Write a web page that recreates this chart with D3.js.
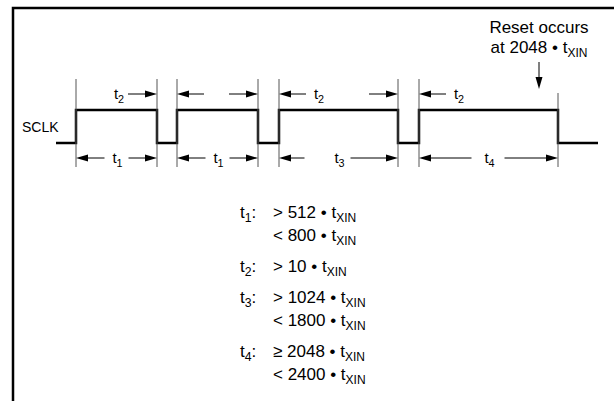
<!DOCTYPE html>
<html>
<head>
<meta charset="utf-8">
<script src="https://cdn.jsdelivr.net/npm/d3@7"></script>
<style>
  body { margin: 0; background: #fff; }
  svg { display: block; font-family: "Liberation Sans", Arial, sans-serif; }
</style>
</head>
<body>
<svg width="614" height="401"></svg>
<script>
// Edge times of SCLK (arbitrary units along the diagram)
const edgeTimes = [20, 101, 121, 202, 223, 342, 363, 502];
const signalStart = 0;
const signalEnd = 542;
const startLevel = 0; // low before first edge

// Dimension arrows under the waveform (edge indices)
const periods = [
    { from: 0, to: 1, sub: "1", gapL: 12, gapR: 12 },
    { from: 2, to: 3, sub: "1", gapL: 12, gapR: 12 },
    { from: 4, to: 5, sub: "3", gapL: 34, gapR: 12 },
    { from: 6, to: 7, sub: "4", gapL: 17, gapR: 16 }
];

// Low-time (t2) arrows over the waveform
const lowTimes = [
    { from: 1, to: 2, side: "left" },
    { from: 3, to: 4, side: "right" },
    { from: 5, to: 6, side: "right" }
];

// Timing requirements table
const specSymbols = ["1", "2", "3", "4"];
const specOps = [[">", "<"], [">"], [">", "<"], ["\u2265", "<"]];
const specValues = [["512", "800"], ["10"], ["1024", "1800"], ["2048", "2400"]];

const resetText = ["Reset occurs", "at 2048 \u2022 t"];

const svg = d3.select("svg");

// frame (cut off on the right and bottom)
svg.append("path")
    .attr("d", "M13,401 V8 H614")
    .attr("fill", "none")
    .attr("stroke", "#000")
    .attr("stroke-width", 2.5);

const x = d3.scaleLinear().domain([signalStart, signalEnd]).range([56, 598]);
const yHigh = 110, yLow = 143;

// waveform
let pts = [[signalStart, startLevel]];
let lvl = startLevel;
edgeTimes.forEach(t => {
    pts.push([t, lvl]);
    lvl = 1 - lvl;
    pts.push([t, lvl]);
});
pts.push([signalEnd, lvl]);

svg.append("path")
    .attr("d", d3.line().x(d => x(d[0])).y(d => d[1] ? yHigh : yLow)(pts))
    .attr("fill", "none")
    .attr("stroke", "#000")
    .attr("stroke-width", 2.5)
    .attr("stroke-linejoin", "miter");

// thin extension lines at each edge
edgeTimes.forEach((t, i) => {
    svg.append("line")
        .attr("x1", x(t)).attr("x2", x(t))
        .attr("y1", i === edgeTimes.length - 1 ? 93 : 79)
        .attr("y2", 167)
        .attr("stroke", "#555")
        .attr("stroke-width", 1);
});

svg.append("text")
    .attr("x", 22).attr("y", 132)
    .attr("font-size", 14)
    .text("SCLK");

// arrow helper: line from (x1,y) to (x2,y) with filled head at x2
function arrow(x1, x2, y) {
    const dir = Math.sign(x2 - x1);
    const hl = 12, hw = 3.5;
    svg.append("line")
        .attr("x1", x1).attr("x2", x2 - dir * hl)
        .attr("y1", y).attr("y2", y)
        .attr("stroke", "#000").attr("stroke-width", 1);
    svg.append("path")
        .attr("d", `M${x2},${y} L${x2 - dir * hl},${y - hw} L${x2 - dir * hl},${y + hw} Z`)
        .attr("fill", "#000");
}

function tLabel(g, xPos, y, sub, size, anchor) {
    const t = g.append("text")
        .attr("x", xPos).attr("y", y)
        .attr("font-size", size)
        .attr("text-anchor", anchor || "middle");
    t.append("tspan").text("t");
    t.append("tspan").attr("dy", 4).attr("font-size", size * 0.72).text(sub);
    return t;
}

// period arrows
const yBot = 158;
periods.forEach(p => {
    const a = x(edgeTimes[p.from]), b = x(edgeTimes[p.to]);
    const mid = (a + b) / 2;
    arrow(mid - p.gapL, a, yBot);
    arrow(mid + p.gapR, b, yBot);
    tLabel(svg, mid + 1, yBot + 5, p.sub, 15);
});

// low-time arrows
const yTop = 94;
lowTimes.forEach(p => {
    const a = x(edgeTimes[p.from]), b = x(edgeTimes[p.to]);
    arrow(a - 29, a, yTop);
    arrow(b + 27, b, yTop);
    if (p.side === "left") tLabel(svg, a - 38, yTop + 5, "2", 15, "middle");
    else tLabel(svg, b + 40, yTop + 5, "2", 15, "middle");
});

// reset annotation
const resetX = 539;
svg.append("text")
    .attr("x", resetX).attr("y", 33)
    .attr("text-anchor", "middle")
    .attr("font-size", 17)
    .text(resetText[0]);
const rt = svg.append("text")
    .attr("x", resetX).attr("y", 53)
    .attr("text-anchor", "middle")
    .attr("font-size", 17);
rt.append("tspan").text(resetText[1]);
rt.append("tspan").attr("dy", 4).attr("font-size", 12).text("XIN");
svg.append("line")
    .attr("x1", resetX).attr("x2", resetX)
    .attr("y1", 62).attr("y2", 78)
    .attr("stroke", "#000").attr("stroke-width", 1);
svg.append("path")
    .attr("d", `M${resetX},89 L${resetX - 3.5},77 L${resetX + 3.5},77 Z`)
    .attr("fill", "#000");

// requirements
const lineGap = 23, groupGap = 31;
let yy = 218;
specSymbols.forEach((s, i) => {
    tLabel(svg, 240, yy, s, 17, "start").append("tspan").attr("dy", -4).text(":");
    specOps[i].forEach((op, j) => {
        if (j > 0) yy += lineGap;
        const t = svg.append("text")
            .attr("x", 273).attr("y", yy)
            .attr("font-size", 17);
        t.append("tspan").text(`${op} ${specValues[i][j]} \u2022 t`);
        t.append("tspan").attr("dy", 4).attr("font-size", 12).text("XIN");
    });
    yy += groupGap;
});
</script>
</body>
</html>
